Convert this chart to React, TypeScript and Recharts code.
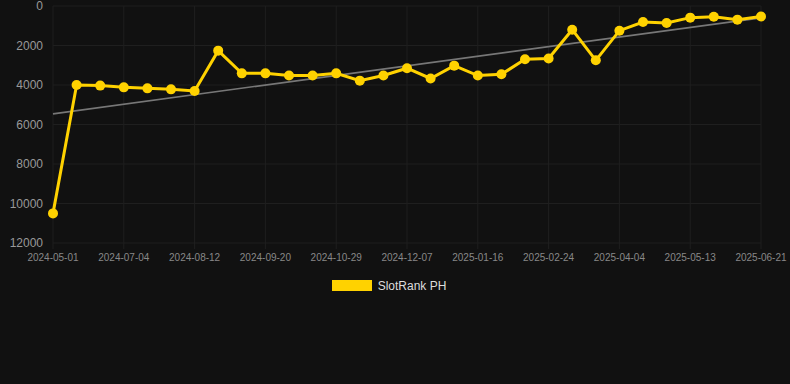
import { LineChart, Line, XAxis, YAxis, CartesianGrid, Legend } from 'recharts';

const dates = [
  '2024-05-01', '2024-06-08', '2024-06-21', '2024-07-04', '2024-07-17', '2024-07-30',
  '2024-08-12', '2024-08-25', '2024-09-07', '2024-09-20', '2024-10-03', '2024-10-16',
  '2024-10-29', '2024-11-11', '2024-11-24', '2024-12-07', '2024-12-20', '2025-01-03',
  '2025-01-16', '2025-01-29', '2025-02-11', '2025-02-24', '2025-03-09', '2025-03-22',
  '2025-04-04', '2025-04-17', '2025-04-30', '2025-05-13', '2025-05-26', '2025-06-08',
  '2025-06-21',
];

const rank = [
  10500, 4000, 4030, 4120, 4170, 4220, 4300, 2260, 3410, 3410, 3520, 3520,
  3410, 3780, 3520, 3150, 3670, 3020, 3520, 3460, 2700, 2660, 1200, 2750,
  1250, 810, 860, 590, 540, 690, 530,
];

// trend line: only the two end points, joined
const trendStart = 5460;
const trendEnd = 600;

const xTicks = [0, 3, 6, 9, 12, 15, 18, 21, 24, 27, 30];
const yTicks = [0, 2000, 4000, 6000, 8000, 10000, 12000];

const data = dates.map((d, i) => ({
  i,
  date: d,
  rank: rank[i],
  trend: i === 0 ? trendStart : i === dates.length - 1 ? trendEnd : null,
}));

const YELLOW = '#FFD200';
const GRID = '#1f1f1f';

function LegendBox() {
  return (
    <div style={{ display: 'flex', justifyContent: 'center', alignItems: 'center', height: 21, paddingRight: 12, paddingTop: 2 }}>
      <span style={{ display: 'inline-block', width: 40, height: 11, background: YELLOW, marginRight: 6 }} />
      <span style={{ color: '#dddddd', fontSize: 12, fontFamily: '"Liberation Sans", Arial, sans-serif' }}>
        SlotRank PH
      </span>
    </div>
  );
}

export default function App() {
  return (
    <div style={{ position: 'absolute', left: 0, top: 0, width: 790, height: 384, background: '#111111' }}>
      <LineChart
        width={790}
        height={384}
        data={data}
        margin={{ top: 6, right: 29, left: 0, bottom: 90 }}
        style={{ fontFamily: '"Liberation Sans", Arial, sans-serif' }}
      >
        <CartesianGrid stroke={GRID} />
        <XAxis
          dataKey="i"
          type="number"
          domain={[0, 30]}
          ticks={xTicks}
          tickFormatter={(v: number) => dates[v]}
          axisLine={false}
          tickLine={{ stroke: GRID }}
          tickSize={6}
          tickMargin={5}
          tick={{ fontSize: 10, fill: '#888888' }}
          interval={0}
        />
        <YAxis
          reversed
          domain={[0, 12000]}
          ticks={yTicks}
          width={53}
          axisLine={false}
          tickLine={false}
          tickMargin={4}
          tick={{ fontSize: 12, fill: '#999999' }}
          interval={0}
        />
        <Legend
          verticalAlign="bottom"
          height={21}
          wrapperStyle={{ left: 0, width: 790 }}
          content={() => <LegendBox />}
        />
        <Line
          dataKey="trend"
          stroke="#777777"
          strokeWidth={1.6}
          dot={false}
          activeDot={false}
          connectNulls
          legendType="none"
          isAnimationActive={false}
        />
        <Line
          dataKey="rank"
          stroke={YELLOW}
          strokeWidth={3}
          dot={{ r: 5, fill: YELLOW, stroke: YELLOW, strokeWidth: 0 }}
          isAnimationActive={false}
        />
      </LineChart>
    </div>
  );
}
